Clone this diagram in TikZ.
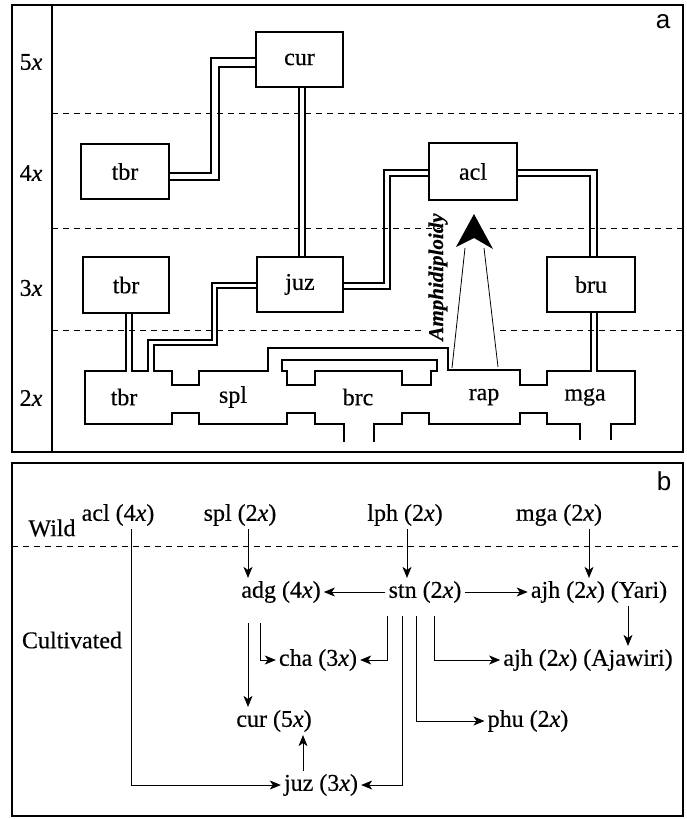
\documentclass[tikz,border=0pt]{standalone}
\usepackage{fontspec}
\setmainfont{Liberation Serif}
\newfontfamily\serf[FakeBold=0.4]{Liberation Serif}
\newfontfamily\sansf{Liberation Sans}
\usetikzlibrary{arrows.meta,calc}
\begin{document}
\begin{tikzpicture}[x=1pt,y=-1pt,
  lbl/.style={font=\serf\fontsize{24}{26}\selectfont, inner sep=3pt},
  abox/.style={draw, line width=1.1pt, minimum width=87pt, minimum height=55pt, inner sep=0pt, font=\serf\fontsize{24}{26}\selectfont},
  dline/.style={line width=1.1pt},
  thinl/.style={line width=0.8pt},
  arr/.style={thinl,-{Stealth[length=11pt,width=9pt,inset=3pt]}},
  hdash/.style={line width=0.8pt, dash pattern=on 6pt off 5pt},
  frame/.style={line width=1.2pt},
  panel/.style={font=\sansf\fontsize{26}{28}\selectfont, inner sep=0pt}
]
\useasboundingbox (0,0) rectangle (686,819);
% ---------------- panel a ----------------
\draw[frame] (12,5) rectangle (683,452);
\draw[frame] (52,5) -- (52,452);
\node[panel] (pa) at (663,22) {a};
\draw[hdash] (52,113) -- (683,113);
\draw[hdash] (52,228) -- (440,228);
\draw[hdash] (490,228) -- (683,228);
\draw[hdash] (52,330) -- (425,330);
\draw[hdash] (500,330) -- (683,330);
\node[lbl] (l5) at (31,62) {5\textit{x}};
\node[lbl] (l4) at (31,173) {4\textit{x}};
\node[lbl] (l3) at (31,288) {3\textit{x}};
\node[lbl] (l2) at (31,398) {2\textit{x}};
% boxes
\node[abox] (cur) at (299.5,59.5) {cur};
\node[abox, minimum width=88pt] (tbrfour) at (125,171.5) {tbr};
\node[abox, minimum width=88pt, minimum height=57pt] (acl) at (473,171.5) {acl};
\node[abox, minimum width=86pt, minimum height=56pt] (tbrthree) at (126,285) {tbr};
\node[abox, minimum width=86pt] (juz) at (300,284.5) {juz};
\node[abox, minimum width=88pt] (bru) at (591,284.5) {bru};
% bottom row labels
\node[lbl] (tbrtwo) at (124,397) {tbr};
\node[lbl] (spl) at (233,397) {spl};
\node[lbl] (brc) at (358,397) {brc};
\node[lbl] (rap) at (484,397) {rap};
\node[lbl] (mga) at (585,397) {mga};
% double connectors
\draw[dline] (tbrfour.east |- 0,173) -- (211,173) -- (211,58) -- (cur.west |- 0,58);
\draw[dline] (tbrfour.east |- 0,180) -- (219,180) -- (219,67) -- (cur.west |- 0,67);
\draw[dline] (cur.south -| 299,0) -- (juz.north -| 299,0);
\draw[dline] (cur.south -| 305,0) -- (juz.north -| 305,0);
\draw[dline] (acl.west |- 0,170) -- (384,170) -- (384,283) -- (juz.east |- 0,283);
\draw[dline] (acl.west |- 0,176) -- (390,176) -- (390,289) -- (juz.east |- 0,289);
\draw[dline] (acl.east |- 0,170) -- (597,170) -- (bru.north -| 597,0);
\draw[dline] (acl.east |- 0,176) -- (590,176) -- (bru.north -| 590,0);
% bottom row outline
\draw[dline] (tbrthree.south -| 126,0) -- (126,371) -- (85,371) -- (85,424) -- (172,424) -- (172,413) -- (199,413) -- (199,424) -- (287,424) -- (287,413) -- (315,413) -- (315,424) -- (344,424) -- (344,442);
\draw[dline] (tbrthree.south -| 132,0) -- (132,371) -- (148,371) -- (148,340) -- (212,340) -- (212,283) -- (juz.west |- 0,283);
\draw[dline] (juz.west |- 0,288) -- (217,288) -- (217,345) -- (154,345) -- (154,371) -- (172,371) -- (172,385) -- (199,385) -- (199,371) -- (268,371) -- (268,348) -- (448,348) -- (448,370) -- (520,370) -- (520,385) -- (547,385) -- (547,371) -- (591,371) -- (bru.south -| 591,0);
\draw[dline] (282,360) -- (437,360) -- (437,371) -- (431,371) -- (431,385) -- (402,385) -- (402,371) -- (315,371) -- (315,385) -- (287,385) -- (287,371) -- (282,371) -- cycle;
\draw[dline] (bru.south -| 597,0) -- (597,371) -- (635,371) -- (635,424) -- (611,424) -- (611,440);
\draw[dline] (374,442) -- (374,424) -- (402,424) -- (402,413) -- (429,413) -- (429,424) -- (520,424) -- (520,413) -- (547,413) -- (547,424) -- (580,424) -- (580,440);
% amphidiploidy
\coordinate (tipL) at (465,248);
\coordinate (tipR) at (484,248);
\draw[thinl] (452,368) -- (tipL);
\draw[thinl] (498,367) -- (tipR);
\fill (474,214) -- (493,249) -- (474,238) -- (456,247) -- cycle;
\node[font=\serf\bfseries\itshape\fontsize{21}{23}\selectfont, rotate=90, inner sep=1pt] (amph) at (438,277) {Amphidiploidy};
% ---------------- panel b ----------------
\draw[frame] (12,463) rectangle (683,816);
\node[panel] (pb) at (664,481) {b};
\draw[hdash] (12,546) -- (683,546);
\node[lbl] (wild) at (52,528) {Wild};
\node[lbl] (aclb) at (118,515) {acl (4\textit{x})};
\node[lbl] (splb) at (240,515) {spl (2\textit{x})};
\node[lbl] (lphb) at (405,515) {lph (2\textit{x})};
\node[lbl] (mgab) at (559,515) {mga (2\textit{x})};
\node[lbl] (adgb) at (281,592) {adg (4\textit{x})};
\node[lbl] (stnb) at (425,592) {stn (2\textit{x})};
\node[lbl] (yari) at (599,592) {ajh (2\textit{x}) (Yari)};
\node[lbl] (cult) at (72,640) {Cultivated};
\node[lbl] (chab) at (318,660) {cha (3\textit{x})};
\node[lbl] (ajaw) at (588,660) {ajh (2\textit{x}) (Ajawiri)};
\node[lbl] (curb) at (274,721) {cur (5\textit{x})};
\node[lbl] (phub) at (528,721) {phu (2\textit{x})};
\node[lbl] (juzb) at (321,785) {juz (3\textit{x})};
\draw[arr] (splb.south -| 248,0) -- (adgb.north -| 248,0);
\draw[arr] (lphb.south -| 407,0) -- (stnb.north -| 407,0);
\draw[arr] (mgab.south -| 589,0) -- (yari.north -| 589,0);
\draw[arr] (stnb.west) -- (adgb.east);
\draw[arr] (stnb.east) -- (yari.west);
\draw[arr] (yari.south -| 628,0) -- (ajaw.north -| 628,0);
\draw[arr] (aclb.south -| 131,0) -- (juzb.west -| 131,0) -- (juzb.west);
\draw[arr, shorten <=17pt] (adgb.south -| 248,0) -- (curb.north -| 248,0);
\draw[arr, shorten <=17pt] (adgb.south -| 260,0) -- (chab.west -| 260,0) -- (chab.west);
\draw[arr, shorten <=10pt] (stnb.south -| 387,0) -- (chab.east -| 387,0) -- (chab.east);
\draw[arr, shorten <=10pt] (stnb.south -| 402,0) -- (juzb.east -| 402,0) -- (juzb.east);
\draw[arr, shorten <=10pt] (stnb.south -| 416,0) -- (phub.west -| 416,0) -- (phub.west);
\draw[arr, shorten <=10pt] (stnb.south -| 434,0) -- (ajaw.west -| 434,0) -- (ajaw.west);
\draw[arr] (juzb.north -| 303,0) -- (curb.south -| 303,0);
\end{tikzpicture}
\end{document}
